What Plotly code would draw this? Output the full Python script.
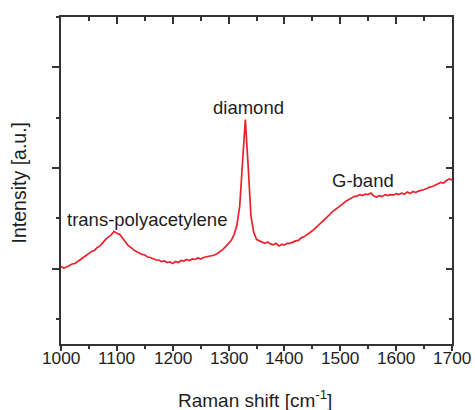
import plotly.graph_objects as go

# Raman spectrum (wavenumber in cm^-1, intensity in arbitrary units)
wavenumber = list(range(1000, 1701, 5))
intensity = [
    1.04, 1.01, 1.03, 1.06, 1.09, 1.10, 1.15, 1.18, 1.22, 1.26,  # 1000-1045
    1.29, 1.34, 1.36, 1.42, 1.45, 1.52, 1.58, 1.63, 1.67, 1.74,  # 1050-1095
    1.70, 1.68, 1.60, 1.53, 1.46, 1.42, 1.37, 1.34, 1.31, 1.28,  # 1100-1145
    1.27, 1.23, 1.22, 1.20, 1.17, 1.17, 1.14, 1.15, 1.12, 1.13,  # 1150-1195
    1.10, 1.14, 1.12, 1.16, 1.15, 1.18, 1.16, 1.19, 1.18, 1.21,  # 1200-1245
    1.19, 1.22, 1.23, 1.24, 1.26, 1.27, 1.30, 1.34, 1.38, 1.44,  # 1250-1295
    1.50, 1.56, 1.68, 1.86, 2.25, 3.05, 3.96, 3.05, 2.05, 1.72,  # 1300-1345
    1.58, 1.55, 1.52, 1.50, 1.53, 1.49, 1.47, 1.50, 1.45, 1.48,  # 1350-1395
    1.47, 1.50, 1.50, 1.53, 1.55, 1.56, 1.61, 1.63, 1.67, 1.70,  # 1400-1445
    1.75, 1.80, 1.85, 1.90, 1.96, 2.01, 2.06, 2.12, 2.16, 2.20,  # 1450-1495
    2.25, 2.29, 2.34, 2.37, 2.39, 2.43, 2.44, 2.47, 2.45, 2.48,  # 1500-1545
    2.47, 2.50, 2.44, 2.42, 2.45, 2.43, 2.47, 2.45, 2.47, 2.46,  # 1550-1595
    2.49, 2.47, 2.50, 2.48, 2.52, 2.49, 2.53, 2.51, 2.54, 2.55,  # 1600-1645
    2.57, 2.59, 2.62, 2.63, 2.66, 2.68, 2.71, 2.70, 2.75, 2.78,  # 1650-1695
    2.76,                                                        # 1700
]

x_range = [1000, 1700]
y_range = [-0.5, 6]
x_tickvals = [1000, 1100, 1200, 1300, 1400, 1500, 1600, 1700]
x_ticktext = ["1000", "1100", "1200", "1300", "1400", "1500", "1600", "1700"]

labels = ["trans-polyacetylene", "diamond", "G-band"]
label_x = [1008, 1336, 1540]
label_y = [1.97, 4.20, 2.75]
label_anchor = ["left", "center", "center"]

FONT = "Liberation Sans, Arial, sans-serif"
AX = "#333333"
TXT = "#1e1e1e"
RED = "#e8222c"

fig = go.Figure()
fig.add_trace(go.Scatter(
    x=wavenumber, y=intensity, mode="lines",
    line=dict(color=RED, width=1.7), showlegend=False, hoverinfo="skip",
))
# invisible trace to host the mirrored (top/right) axes with inward ticks
fig.add_trace(go.Scatter(
    x=[x_range[0]], y=[y_range[0]], xaxis="x2", yaxis="y2",
    mode="markers", marker=dict(opacity=0), showlegend=False, hoverinfo="skip",
))

for i, t in enumerate(labels):
    fig.add_annotation(
        x=label_x[i], y=label_y[i], text=t, showarrow=False,
        xanchor=label_anchor[i], yanchor="middle",
        font=dict(family=FONT, size=18.5, color=TXT),
    )

# x tick labels placed close under the axis
for v, t in zip(x_tickvals, x_ticktext):
    fig.add_annotation(
        x=v, xref="x", yref="paper", y=-0.0413, text=t, showarrow=False,
        xanchor="center", yanchor="middle",
        font=dict(family=FONT, size=17.3, color=TXT),
    )

fig.add_annotation(
    xref="paper", yref="paper", x=0.496, y=-0.168,
    text="Raman shift [cm<sup>-1</sup>]", showarrow=False,
    xanchor="center", yanchor="middle",
    font=dict(family=FONT, size=19, color=TXT),
)
fig.add_annotation(
    xref="paper", yref="paper", x=-0.105, y=0.494,
    text="Intensity [a.u.]", showarrow=False, textangle=-90,
    xanchor="center", yanchor="middle",
    font=dict(family=FONT, size=19.5, color=TXT),
)

fig.update_layout(
    template="none",
    width=475, height=410,
    margin=dict(l=61, r=23, t=17, b=66, autoexpand=False),
    paper_bgcolor="white", plot_bgcolor="white",
    xaxis=dict(
        automargin=False,
        range=x_range, tickmode="array", tickvals=x_tickvals,
        showticklabels=False,
        ticks="outside", ticklen=5, tickwidth=1.5, tickcolor=AX,
        minor=dict(dtick=50, tick0=1000, ticks="outside", ticklen=3.5,
                   tickwidth=1.5, tickcolor=AX, showgrid=False),
        showline=True, linecolor=AX, linewidth=1.6, mirror=True,
        showgrid=False, zeroline=False,
    ),
    yaxis=dict(
        automargin=False,
        range=y_range, tickmode="linear", tick0=1, dtick=2,
        ticks="outside", ticklen=7, tickwidth=1.5, tickcolor=AX,
        minor=dict(dtick=1, tick0=0, ticks="outside", ticklen=3.5,
                   tickwidth=1.5, tickcolor=AX, showgrid=False),
        showticklabels=False,
        showline=True, linecolor=AX, linewidth=1.6, mirror=True,
        showgrid=False, zeroline=False,
    ),
    xaxis2=dict(
        automargin=False,
        range=x_range, overlaying="x", side="top", anchor="y2",
        tickmode="array", tickvals=x_tickvals,
        ticks="inside", ticklen=7, tickwidth=1.5, tickcolor=AX,
        minor=dict(dtick=50, tick0=1000, ticks="inside", ticklen=3.5,
                   tickwidth=1.5, tickcolor=AX, showgrid=False),
        showticklabels=False, showline=False, showgrid=False, zeroline=False,
    ),
    yaxis2=dict(
        automargin=False,
        range=y_range, overlaying="y", side="right", anchor="x2",
        tickmode="linear", tick0=1, dtick=2,
        ticks="inside", ticklen=6, tickwidth=1.5, tickcolor=AX,
        minor=dict(dtick=1, tick0=0, ticks="inside", ticklen=3.5,
                   tickwidth=1.5, tickcolor=AX, showgrid=False),
        showticklabels=False, showline=False, showgrid=False, zeroline=False,
    ),
)

fig.write_html(
    "out.html",
    config={"displayModeBar": False},
    post_script="document.body.style.margin='0px';",
)
